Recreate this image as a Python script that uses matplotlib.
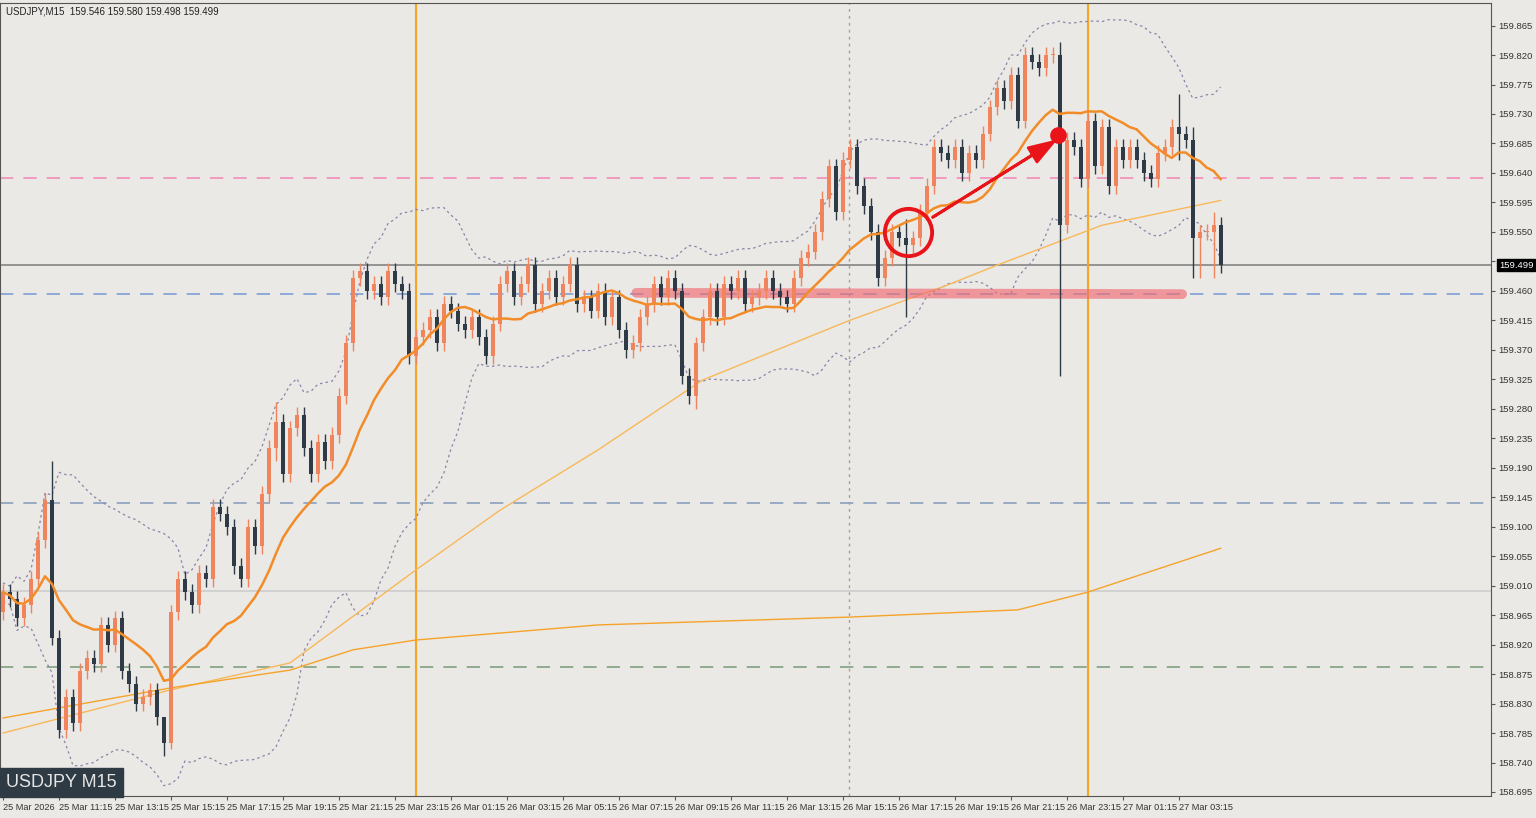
import numpy as np
import pandas as pd
import matplotlib
matplotlib.use("Agg")
import matplotlib.pyplot as plt
from matplotlib.patches import FancyArrowPatch

plt.rcParams['font.family'] = ['Liberation Sans', 'DejaVu Sans']

# closes of M15 candles, 25 Mar 09:15 onward (8 candles per 2 hours)
closes = [
    159.00, 158.99, 158.96, 158.98, 159.02, 159.08, 159.14, 158.93,
    158.79, 158.84, 158.80, 158.88, 158.90, 158.89, 158.95, 158.92,
    158.96, 158.88, 158.86, 158.83, 158.84, 158.85, 158.81, 158.77,
    158.97, 159.02, 159.00, 158.98, 159.03, 159.02, 159.13, 159.12,
    159.10, 159.04, 159.02, 159.10, 159.07, 159.15, 159.22, 159.26,
    159.18, 159.25, 159.27, 159.22, 159.18, 159.23, 159.20, 159.24,
    159.30, 159.38, 159.48, 159.49, 159.46, 159.47, 159.45, 159.49,
    159.47, 159.46, 159.36, 159.39, 159.40, 159.42, 159.38, 159.44,
    159.43, 159.41, 159.40, 159.42, 159.39, 159.36, 159.41, 159.47,
    159.49, 159.45, 159.47, 159.50, 159.44, 159.46, 159.48, 159.45,
    159.47, 159.50, 159.44, 159.45, 159.43, 159.46, 159.42, 159.45,
    159.40, 159.37, 159.38, 159.42, 159.44, 159.47, 159.45, 159.48,
    159.46, 159.33, 159.30, 159.38, 159.42, 159.46, 159.42, 159.47,
    159.46, 159.48, 159.44, 159.45, 159.46, 159.48, 159.46, 159.45,
    159.44, 159.48, 159.51, 159.52, 159.55, 159.60, 159.65, 159.58,
    159.66, 159.68, 159.62, 159.59, 159.55, 159.48, 159.51, 159.55,
    159.54, 159.53, 159.54, 159.58, 159.62, 159.68, 159.67, 159.66,
    159.68, 159.64, 159.67, 159.66, 159.70, 159.74, 159.77, 159.75,
    159.79, 159.72, 159.82, 159.81, 159.80, 159.82, 159.82, 159.56,
    159.69, 159.68, 159.63, 159.72, 159.65, 159.71, 159.62, 159.68,
    159.66, 159.68, 159.66, 159.64, 159.63, 159.67, 159.68, 159.71,
    159.70, 159.69, 159.54, 159.55, 159.55, 159.56, 159.499,
]
first_open = 158.97
wick = 0.012
# candles with long wicks: index -> (high, low)
long_wicks = {7: (159.20, 158.92), 23: (158.80, 158.75), 24: (158.98, 158.76),
              39: (159.29, 159.20), 99: (159.39, 159.28), 129: (159.57, 159.42),
              151: (159.84, 159.33), 168: (159.76, 159.66), 170: (159.71, 159.48),
              171: (159.56, 159.48), 173: (159.58, 159.48)}

# slower moving averages sampled at candle indices
ma_fast_idx = [0, 24, 41, 59, 71, 85, 100, 121, 135, 142, 157, 174]
ma_fast_val = [158.785, 158.851, 158.892, 159.034, 159.125, 159.217, 159.324, 159.415, 159.469, 159.499, 159.560, 159.598]
ma_slow_idx = [0, 24, 41, 50, 59, 85, 121, 145, 155, 174]
ma_slow_val = [158.808, 158.854, 158.881, 158.912, 158.927, 158.950, 158.962, 158.973, 159.000, 159.067]

levels_dashed = [(159.632, "#f28cb8"), (159.455, "#7e9fd6"), (159.136, "#8aa0bd"), (158.886, "#7fa07f")]
levels_solid = [(159.499, "#8c8c8c"), (159.002, "#cfcfcf")]
xlabels = ["25 Mar 2026", "25 Mar 11:15", "25 Mar 13:15", "25 Mar 15:15", "25 Mar 17:15",
           "25 Mar 19:15", "25 Mar 21:15", "25 Mar 23:15", "26 Mar 01:15", "26 Mar 03:15",
           "26 Mar 05:15", "26 Mar 07:15", "26 Mar 09:15", "26 Mar 11:15", "26 Mar 13:15",
           "26 Mar 15:15", "26 Mar 17:15", "26 Mar 19:15", "26 Mar 21:15", "26 Mar 23:15",
           "27 Mar 01:15", "27 Mar 03:15"]

bg = "#ebe9e5"
bull = "#f0845c"
bear = "#2e3a45"

c = np.array(closes)
o = np.concatenate([[first_open], c[:-1]])
hi = np.maximum(o, c) + wick
lo = np.minimum(o, c) - wick
for k, (h, l) in long_wicks.items():
    hi[k], lo[k] = h, l
n = len(c)
idx = np.arange(n)

s = pd.Series(c)
ma = s.rolling(17, min_periods=1).mean()
mid = s.rolling(20, min_periods=1).mean()
sd = s.rolling(20, min_periods=2).std().bfill()
bb_up, bb_dn = mid + 2 * sd, mid - 2 * sd

fig = plt.figure(figsize=(15.36, 8.18), dpi=100, facecolor=bg)
ax = fig.add_axes([0.0, 0.027, 0.971, 0.969], facecolor=bg)

for y, col in levels_dashed:
    ax.axhline(y, color=col, lw=1.2, ls=(0, (8, 6)), zorder=1)
for y, col in levels_solid:
    ax.axhline(y, color=col, lw=1.3, zorder=1)
for xv in [59.0, 155.0]:
    ax.axvline(xv, color="#f5a623", lw=1.5, zorder=1)
ax.axvline(120.9, color="#a0a0a0", lw=1, ls=(0, (2, 3)), zorder=1)

ax.plot(idx, bb_up, color="#8a84a8", lw=0.9, ls=(0, (2, 2.5)), zorder=2)
ax.plot(idx, bb_dn, color="#8a84a8", lw=0.9, ls=(0, (2, 2.5)), zorder=2)
ax.plot(ma_fast_idx, ma_fast_val, color="#f7b85a", lw=1.0, zorder=2)
ax.plot(ma_slow_idx, ma_slow_val, color="#f5a32a", lw=1.0, zorder=2)
ax.plot(idx, ma, color="#f28c28", lw=1.8, zorder=4)

ax.plot([90.5, 168.5], [159.457, 159.455], color="#f06a72", lw=7, alpha=0.65,
        solid_capstyle="round", zorder=3)

for i in range(n):
    col = bull if c[i] >= o[i] else bear
    ax.vlines(i, lo[i], hi[i], color=col, lw=1, zorder=3)
    body = max(abs(c[i] - o[i]), 0.002)
    ax.bar(i, body, bottom=min(o[i], c[i]), width=0.6, color=col, zorder=3)

ax.plot(129.3, 159.55, "o", ms=34, mfc="none", mec="#e8141a", mew=2.8, zorder=6)
ax.add_patch(FancyArrowPatch((132.5, 159.57), (150.5, 159.69), arrowstyle="simple,head_width=8,head_length=12",
                             mutation_scale=1.5, color="#e8141a", lw=2, zorder=6))
ax.plot(150.8, 159.698, "o", color="#e8141a", ms=11, zorder=7)

ax.set_xlim(-0.43, 212.7)
ax.set_ylim(158.689, 159.899)
ax.yaxis.tick_right()
yt = np.round(np.arange(158.695, 159.87, 0.045), 3)
ax.set_yticks(yt)
ax.set_yticklabels([f"{v:.3f}" for v in yt], fontsize=6.8, color="#333333")
ax.set_xticks(np.arange(0, 8 * len(xlabels), 8))
ax.set_xticklabels(xlabels, fontsize=6.6, color="#333333", ha="left")
ax.tick_params(axis="both", length=3, width=0.8, color="#555555", pad=2)
for sp in ax.spines.values():
    sp.set_color("#555555")

ax.text(1.005, (159.499 - 158.689) / (159.899 - 158.689), "159.499", transform=ax.transAxes,
        fontsize=6.8, color="white", va="center", ha="left",
        bbox=dict(boxstyle="square,pad=0.15", fc="black", ec="black"))
ax.text(0.004, 0.996, "USDJPY,M15  159.546 159.580 159.498 159.499", transform=ax.transAxes,
        fontsize=7, color="#222222", va="top", ha="left")
ax.text(0.004, 0.006, "USDJPY M15", transform=ax.transAxes, fontsize=13, color="#e5e5e5",
        va="bottom", ha="left",
        bbox=dict(boxstyle="square,pad=0.35", fc="#2e3b44", ec="#2e3b44"))

fig.savefig("out.png", dpi=100, facecolor=bg)
